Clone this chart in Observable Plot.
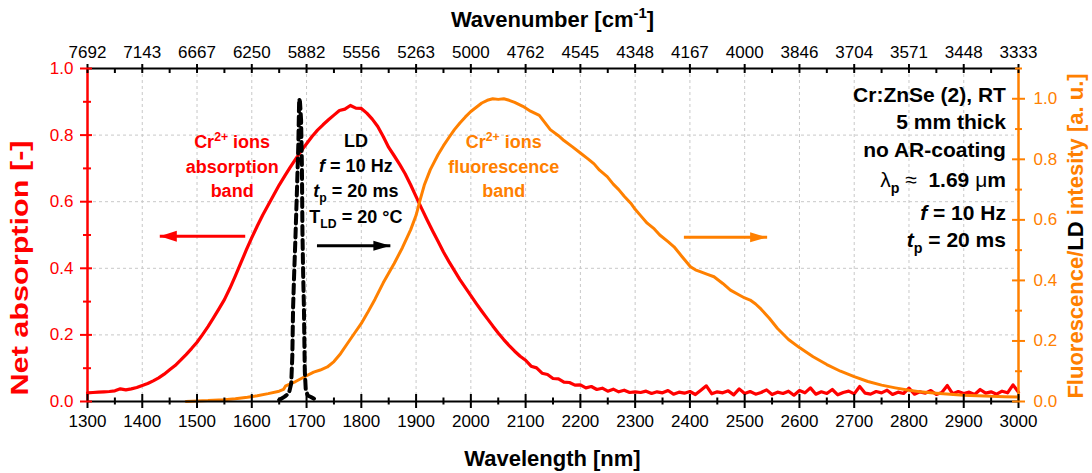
<!DOCTYPE html>
<html><head><meta charset="utf-8">
<script src="https://cdn.jsdelivr.net/npm/d3@7"></script>
<script src="https://cdn.jsdelivr.net/npm/@observablehq/plot@0.6"></script>
<style>html,body{margin:0;padding:0;background:#fff;} svg{display:block} text{white-space:pre}</style>
</head><body><div id="chart"></div>
<script>
// ---------- DATA ----------
// Absorption spectrum (left axis), sampled every 10 nm from 1300 nm
const absStartNm = 1300, absStepNm = 10;
const absValues = [
  .026,.027,.028,.029,.030,.032,.038,.035,.038,.042,
  .048,.054,.062,.071,.082,.095,.108,.124,.141,.159,
  .178,.201,.225,.251,.278,.306,.340,.377,.416,.455,
  .492,.527,.560,.590,.620,.650,.677,.703,.728,.752,
  .774,.796,.815,.831,.846,.860,.874,.878,.889,.881,
  .880,.866,.848,.826,.796,.763,.738,.712,.684,.651,
  .615,.580,.546,.513,.481,.449,.420,.393,.366,.342,
  .318,.294,.271,.249,.227,.206,.186,.168,.151,.136,
  .124,.106,.101,.085,.081,.069,.068,.058,.057,.049,
  .050,.041,.045,.036,.040,.031,.037,.029,.034,.027,
  .029,.027,.031,.024,.029,.026,.033,.022,.028,.025,
  .030,.021,.034,.047,.023,.029,.026,.032,.020,.038,
  .024,.030,.022,.027,.035,.021,.028,.024,.031,.019,
  .033,.026,.041,.022,.029,.024,.036,.020,.027,.031,
  .023,.045,.025,.022,.030,.026,.034,.021,.028,.024,
  .040,.022,.029,.025,.033,.021,.027,.048,.023,.030,
  .024,.028,.021,.036,.025,.029,.022,.031,.026,.050,
  .028
];
// Fluorescence (right axis): [wavelength nm, intensity a.u.]
const fluorescence = [
  [1480,0.000],[1500,0.002],[1520,0.003],[1550,0.006],[1570,0.009],[1592,0.014],[1610,0.019],[1630,0.026],
  [1650,0.034],[1658,0.040],[1662,0.052],[1680,0.066],[1700,0.085],[1713,0.097],[1725,0.104],[1738,0.114],
  [1750,0.132],[1762,0.158],[1774,0.190],[1790,0.232],[1800,0.258],[1811,0.292],[1825,0.338],[1840,0.392],
  [1860,0.456],[1875,0.508],[1890,0.567],[1900,0.615],[1908,0.670],[1915,0.715],[1926,0.766],[1940,0.815],
  [1950,0.845],[1960,0.872],[1970,0.898],[1980,0.920],[1990,0.940],[2000,0.958],[2010,0.972],[2020,0.986],
  [2030,0.995],[2040,1.000],[2050,0.998],[2060,1.000],[2070,0.995],[2080,0.988],[2095,0.975],[2109,0.959],
  [2125,0.945],[2145,0.898],[2160,0.878],[2170,0.862],[2185,0.842],[2200,0.821],[2215,0.800],[2225,0.785],
  [2235,0.764],[2249,0.743],[2260,0.718],[2270,0.700],[2280,0.678],[2292,0.655],[2300,0.635],[2310,0.614],
  [2322,0.589],[2335,0.570],[2345,0.550],[2360,0.528],[2371,0.511],[2385,0.480],[2401,0.445],[2410,0.435],
  [2420,0.428],[2432,0.420],[2444,0.412],[2460,0.390],[2474,0.368],[2490,0.352],[2500,0.342],[2510,0.335],
  [2520,0.322],[2530,0.305],[2545,0.275],[2560,0.241],[2580,0.205],[2600,0.178],[2625,0.148],[2650,0.122],
  [2675,0.100],[2700,0.082],[2725,0.066],[2750,0.054],[2775,0.045],[2800,0.037],[2825,0.031],[2850,0.027],
  [2875,0.024],[2900,0.021],[2925,0.019],[2950,0.017],[2975,0.016],[3000,0.015]
];
// Laser diode spectrum (right axis): [wavelength nm, intensity a.u.]
const laserDiode = [
  [1650,0.005],[1660,0.016],[1668,0.028],[1672,0.06],[1674,0.15],[1675.4,0.31],[1677.5,0.43],[1679.5,0.53],
  [1682.5,0.70],[1685,0.85],[1686.5,1.0],[1688,0.99],[1690,0.93],[1691.5,0.78],[1692.5,0.56],[1693.8,0.42],
  [1695.2,0.31],[1696,0.2],[1696.8,0.1],[1698.5,0.04],[1702,0.02],[1708,0.015],[1713,0.01],[1718,0.005]
];
// Axis ticks and labels
const wavelengthTicks = [1300,1400,1500,1600,1700,1800,1900,2000,2100,2200,2300,2400,2500,2600,2700,2800,2900,3000];
const wavelengthMinor = [1350,1450,1550,1650,1750,1850,1950,2050,2150,2250,2350,2450,2550,2650,2750,2850,2950];
const wavenumberLabels = ["7692","7143","6667","6250","5882","5556","5263","5000","4762","4545","4348","4167","4000","3846","3704","3571","3448","3333"];
const absTicks = [0,0.2,0.4,0.6,0.8,1.0];
const absMinor = [0.1,0.3,0.5,0.7,0.9];
const flTicks = [0,0.2,0.4,0.6,0.8,1.0];
const flMinor = [0.1,0.3,0.5,0.7,0.9,1.1];
const absGrid = [0.2,0.4,0.6,0.8];
const wlGrid = [1400,1500,1600,1700,1800,1900,2000,2100,2200,2300,2400,2500,2600,2700,2800,2900];

// ---------- STYLE ----------
const RED = "#ff0000", ORANGE = "#ff8000", GRID = "#c8c8c8";
const FONT = "'Liberation Sans', Arial, sans-serif";
const RIGHT_MAX = 1.1;
const toL = v => v / RIGHT_MAX;

const absData = absValues.map((v, i) => ({nm: absStartNm + i * absStepNm, v}));
const flData = fluorescence.map(([nm, v]) => ({nm, v}));
const ldData = laserDiode.map(([nm, v]) => ({nm, v}));

const headRight = {draw(c){ c.moveTo(0,0); c.lineTo(-17,-5); c.lineTo(-17,5); c.closePath(); }};
const headLeft  = {draw(c){ c.moveTo(0,0); c.lineTo(17,-5.5); c.lineTo(17,5.5); c.closePath(); }};
const arrows = [
  {x1: 1588, x2: 1432, y: 0.496, color: RED, head: headLeft},
  {x1: 1719, x2: 1853, y: 0.468, color: "#000", head: headRight},
  {x1: 2389, x2: 2541, y: 0.493, color: ORANGE, head: headRight}
];

const plot = Plot.plot({
  width: 1092, height: 473,
  marginLeft: 87, marginRight: 74, marginTop: 68, marginBottom: 72,
  x: {domain: [1300, 3000]},
  y: {domain: [0, 1]},
  style: {fontFamily: FONT, fontSize: "17px", background: "#fff", color: "#000"},
  marks: [
    Plot.ruleX(wlGrid, {stroke: GRID, strokeDasharray: "3,3", strokeWidth: 1}),
    Plot.ruleY(absGrid, {stroke: GRID, strokeDasharray: "3,3", strokeWidth: 1}),
    Plot.line(absData, {x: "nm", y: "v", stroke: RED, strokeWidth: 3.2}),
    Plot.line(flData, {x: "nm", y: d => toL(d.v), stroke: ORANGE, strokeWidth: 3}),
    Plot.line(ldData, {x: "nm", y: d => toL(d.v), stroke: "#000", strokeWidth: 4, strokeDasharray: "9,5"}),
    // arrows
    Plot.link(arrows, {x1: "x1", x2: "x2", y1: "y", y2: "y", stroke: d => d.color, strokeWidth: 3}),
    ...arrows.map(a => Plot.dot([a], {x: "x2", y: "y", symbol: a.head, fill: a.color, stroke: "none"})),
    // frame
    Plot.ruleY([0], {stroke: "#000", strokeWidth: 2}),
    Plot.ruleY([1], {stroke: "#000", strokeWidth: 2}),
    Plot.ruleX([1300], {stroke: RED, strokeWidth: 2.5}),
    Plot.ruleX([3000], {stroke: ORANGE, strokeWidth: 2.5}),
    // tick marks
    Plot.ruleX(wavelengthTicks, {x: d => d, y1: () => 0, y2: () => 0, insetTop: -7, insetBottom: -7, stroke: "#000", strokeWidth: 2}),
    Plot.ruleX(wavelengthMinor, {x: d => d, y1: () => 0, y2: () => 0, insetTop: -3.5, insetBottom: -3.5, stroke: "#000", strokeWidth: 2}),
    Plot.ruleX(wavelengthTicks, {x: d => d, y1: () => 1, y2: () => 1, insetTop: -4, insetBottom: -5, stroke: "#000", strokeWidth: 2}),
    Plot.ruleX(wavelengthMinor, {x: d => d, y1: () => 1, y2: () => 1, insetTop: 0, insetBottom: -5, stroke: "#000", strokeWidth: 2}),
    Plot.ruleY(absTicks, {y: d => d, x1: () => 1300, x2: () => 1300, insetLeft: -7, insetRight: -5, stroke: RED, strokeWidth: 2}),
    Plot.ruleY(absMinor, {y: d => d, x1: () => 1300, x2: () => 1300, insetLeft: -4, insetRight: -4, stroke: RED, strokeWidth: 2}),
    Plot.ruleY(flTicks, {y: d => toL(d), x1: () => 3000, x2: () => 3000, insetLeft: -6, insetRight: -7, stroke: ORANGE, strokeWidth: 2}),
    Plot.ruleY(flMinor, {y: d => toL(d), x1: () => 3000, x2: () => 3000, insetLeft: -3, insetRight: -4, stroke: ORANGE, strokeWidth: 2}),
    // axes labels
    Plot.axisX({anchor: "bottom", ticks: wavelengthTicks, tickSize: 0, tickPadding: 13, tickFormat: d => `${d}`, label: null, fontSize: 17}),
    Plot.axisX({anchor: "top", ticks: wavelengthTicks, tickSize: 0, tickPadding: 11, tickFormat: d => wavenumberLabels[wavelengthTicks.indexOf(d)], label: null, fontSize: 17}),
    Plot.axisY({anchor: "left", ticks: absTicks, tickSize: 0, tickPadding: 14, tickFormat: d => d.toFixed(1), label: null, fill: RED, color: RED, fontSize: 17}),
    Plot.axisY({anchor: "right", ticks: flTicks.map(toL), tickSize: 0, tickPadding: 15, tickFormat: d => (d * RIGHT_MAX).toFixed(1), label: null, fill: ORANGE, color: ORANGE, fontSize: 17})
  ]
});

document.getElementById("chart").appendChild(plot);

// ---------- rich text annotations ----------
const svg = d3.select(plot);
const xs = plot.scale("x"), ys = plot.scale("y");

function rich(x, y, anchor, size, color, parts, rotate) {
  const t = svg.append("text")
    .attr("text-anchor", anchor).attr("font-size", size).attr("font-weight", "bold")
    .attr("fill", color).attr("font-family", FONT);
  if (rotate) t.attr("transform", `translate(${x},${y}) rotate(-90)`);
  else t.attr("x", x).attr("y", y);
  let shift = 0;
  for (const p of parts) {
    const [str, st = ""] = Array.isArray(p) ? p : [p];
    const tok = st.split(" ");
    const s = t.append("tspan").text(str);
    let target = 0;
    if (tok.includes("sub")) target = 0.3 * size;
    else if (tok.includes("sup")) target = -0.42 * size;
    if (target !== shift) { s.attr("dy", target - shift); shift = target; }
    if (tok.includes("sub") || tok.includes("sup")) s.attr("font-size", size * 0.68);
    if (tok.includes("it")) s.attr("font-style", "italic");
    if (tok.includes("norm")) s.attr("font-weight", "normal");
    if (tok.includes("black")) s.attr("fill", "#000");
  }
  return t;
}
const X = v => xs.apply(v), Y = v => ys.apply(v);

// absorption band label
rich(X(1565), Y(0.759), "middle", 18, RED, ["Cr", ["2+", "sup"], " ions"]);
rich(X(1565), Y(0.685), "middle", 18, RED, ["absorption"]);
rich(X(1565), Y(0.613), "middle", 18, RED, ["band"]);
// LD label
rich(X(1791), Y(0.762), "middle", 18, "#000", ["LD"]);
rich(X(1791), Y(0.688), "middle", 18, "#000", [["f", "it"], " = 10 Hz"]);
rich(X(1791), Y(0.613), "middle", 18, "#000", [["t", "it"], ["p", "sub"], " = 20 ms"]);
rich(X(1791), Y(0.535), "middle", 18, "#000", ["T", ["LD", "sub"], " = 20 °C"]);
// fluorescence label
rich(X(2061), Y(0.759), "middle", 18, ORANGE, ["Cr", ["2+", "sup"], " ions"]);
rich(X(2061), Y(0.685), "middle", 18, ORANGE, ["fluorescence"]);
rich(X(2061), Y(0.613), "middle", 18, ORANGE, ["band"]);
// sample info
const rx = X(2978);
rich(rx, Y(0.899), "end", 21, "#000", ["Cr:ZnSe (2), RT"]);
rich(rx, Y(0.817), "end", 21, "#000", ["5 mm thick"]);
rich(rx, Y(0.732), "end", 21, "#000", ["no AR-coating"]);
rich(rx, Y(0.643), "end", 21, "#000", [["λ", "norm"], ["p", "sub"], [" ≈ ", "norm"], " 1.69 ", ["μ", "norm"], "m"]);
rich(rx, Y(0.543), "end", 21, "#000", [["f", "it"], " = 10 Hz"]);
rich(rx, Y(0.463), "end", 21, "#000", [["t", "it"], ["p", "sub"], " = 20 ms"]);

// axis titles
const [px0, px1] = xs.range;
rich((px0 + px1) / 2, 466, "middle", 22, "#000", ["Wavelength [nm]"]);
rich((px0 + px1) / 2, 27, "middle", 22, "#000", ["Wavenumber [cm", ["-1", "sup"], "]"]);
rich(28, 268, "middle", 23, RED, ["Net absorption [-]"], true)
  .attr("textLength", 255).attr("lengthAdjust", "spacingAndGlyphs");
rich(1083, 236, "middle", 22, ORANGE, ["Fluorescence/", ["LD", "black"], " intesity [a. u.]"], true);
</script>
</body></html>
